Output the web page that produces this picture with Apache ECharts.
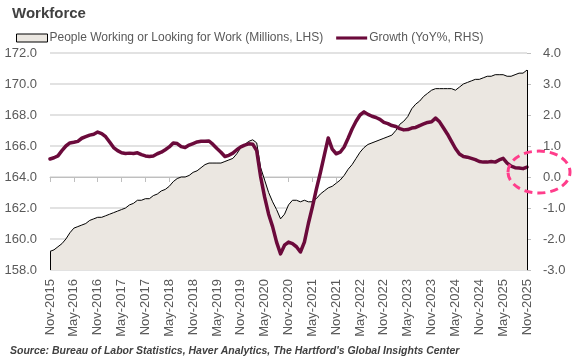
<!DOCTYPE html>
<html>
<head>
<meta charset="utf-8">
<script src="https://cdn.jsdelivr.net/npm/echarts@6/dist/echarts.min.js"></script>
<style>html,body{margin:0;padding:0;background:#fff}#c{width:576px;height:360px}</style>
</head>
<body>
<div id="c"></div>
<script>
// Monthly categories Nov-2015 .. Nov-2025
var monthNames = ['Jan','Feb','Mar','Apr','May','Jun','Jul','Aug','Sep','Oct','Nov','Dec'];
var categories = [];
for (var k = 0; k <= 120; k++) {
  var m = (10 + k) % 12, y = 2015 + Math.floor((10 + k) / 12);
  categories.push(monthNames[m] + '-' + y);
}
var leftTicks = [158, 160, 162, 164, 166, 168, 170, 172];
var rightTicks = [-3, -2, -1, 0, 1, 2, 3, 4];

// People Working or Looking for Work (Millions)
var laborForce = [
159.2,159.3,159.5,159.7,160.0,160.4,160.7,160.8,160.9,161.0,
161.2,161.3,161.4,161.4,161.5,161.6,161.7,161.8,161.9,162.0,
162.2,162.3,162.5,162.5,162.6,162.6,162.8,162.9,163.1,163.2,
163.4,163.7,163.9,164.0,164.0,164.1,164.3,164.4,164.6,164.8,
164.9,164.9,164.9,164.9,165.0,165.1,165.2,165.5,165.9,166.1,
166.3,166.4,166.2,164.6,163.8,163.0,162.4,161.9,161.3,161.6,
162.2,162.5,162.5,162.4,162.5,162.4,162.4,162.6,162.9,163.1,
163.3,163.4,163.6,163.8,164.1,164.5,164.8,165.2,165.6,165.9,
166.1,166.2,166.3,166.4,166.5,166.6,166.7,167.0,167.4,167.6,
167.9,168.4,168.7,168.9,169.2,169.4,169.6,169.7,169.7,169.7,
169.7,169.7,169.6,169.8,170.0,170.1,170.2,170.3,170.3,170.4,
170.5,170.5,170.6,170.6,170.6,170.5,170.5,170.6,170.7,170.7,
170.9];

// Growth (YoY %)
var growth = [
0.58,0.62,0.68,0.85,1.00,1.10,1.12,1.15,1.25,1.30,
1.35,1.38,1.45,1.40,1.30,1.13,0.95,0.85,0.78,0.76,
0.77,0.76,0.78,0.72,0.68,0.66,0.68,0.75,0.80,0.88,
0.97,1.10,1.08,0.98,0.95,1.03,1.08,1.13,1.15,1.15,
1.16,1.05,0.92,0.80,0.66,0.70,0.77,0.88,0.97,1.03,
1.07,1.06,0.85,0.00,-0.65,-1.20,-1.60,-2.10,-2.48,-2.20,
-2.10,-2.15,-2.25,-2.42,-2.10,-1.50,-0.97,-0.40,0.13,0.70,
1.26,0.90,0.75,0.80,0.97,1.25,1.55,1.80,2.00,2.10,
2.02,1.96,1.92,1.86,1.76,1.72,1.66,1.63,1.56,1.52,
1.53,1.58,1.60,1.66,1.71,1.76,1.78,1.90,1.78,1.58,
1.38,1.15,0.92,0.74,0.66,0.64,0.60,0.56,0.50,0.48,
0.48,0.50,0.48,0.55,0.60,0.45,0.35,0.30,0.29,0.27,
0.32];

var FONT = 'Liberation Sans';
var LABEL = '#595959';
var AREA = '#ebe7e1';
var LINE = '#6b0a3b';

var chart = echarts.init(document.getElementById('c'), null, {renderer: 'canvas'});
var last = laborForce.length - 1;
chart.setOption({
  animation: false,
  textStyle: {fontFamily: FONT},
  title: {
    text: 'Workforce', left: 7, top: 1,
    textStyle: {fontFamily: FONT, fontSize: 15, fontWeight: 'bold', color: '#404040'}
  },
  legend: {
    left: 11, top: 27, itemWidth: 31, itemHeight: 8, itemGap: 13,
    textStyle: {fontFamily: FONT, fontSize: 12, color: LABEL, padding: [0, 0, 0, -3]},
    data: [
      {name: 'People Working or Looking for Work (Millions, LHS)', icon: 'rect',
       itemStyle: {color: AREA, borderColor: '#000', borderWidth: 1}},
      {name: 'Growth (YoY%, RHS)', icon: 'path://M0,0H32V3.2H0Z',
       itemStyle: {color: LINE, borderWidth: 0}}
    ]
  },
  grid: {left: 50, right: 49, top: 53, bottom: 90, containLabel: false},
  xAxis: {
    type: 'category', data: categories, boundaryGap: false,
    axisLine: {lineStyle: {color: '#bfbfbf'}},
    axisTick: {interval: 5, length: 5, lineStyle: {color: '#bfbfbf'}},
    axisLabel: {interval: 5, rotate: 90, fontSize: 13, color: LABEL, margin: 9, fontFamily: FONT}
  },
  yAxis: [
    {
      type: 'value', min: leftTicks[0], max: leftTicks[leftTicks.length - 1], interval: 2,
      axisLine: {show: false}, axisTick: {show: false},
      splitLine: {lineStyle: {color: '#d9d9d9', width: 1.5}},
      axisLabel: {fontSize: 13, color: LABEL, margin: 13, fontFamily: FONT,
                  formatter: function (v) { return v.toFixed(1); }}
    },
    {
      type: 'value', min: rightTicks[0], max: rightTicks[rightTicks.length - 1], interval: 1,
      position: 'right',
      axisLine: {show: false},
      axisTick: {show: true, length: 4, lineStyle: {color: '#bfbfbf'}},
      splitLine: {show: false},
      axisLabel: {fontSize: 13, color: LABEL, margin: 16, fontFamily: FONT,
                  formatter: function (v) { return v.toFixed(1); }}
    }
  ],
  series: [
    {
      name: 'People Working or Looking for Work (Millions, LHS)',
      type: 'line', yAxisIndex: 0, data: laborForce,
      symbol: 'none', smooth: false,
      lineStyle: {color: '#000', width: 1},
      itemStyle: {color: AREA},
      areaStyle: {color: AREA, opacity: 1, origin: 'start'},
      markLine: {
        silent: true, symbol: 'none', label: {show: false},
        lineStyle: {color: '#000', width: 1, type: 'solid'},
        data: [
          [{coord: [0, leftTicks[0]]}, {coord: [0, laborForce[0]]}],
          [{coord: [last, leftTicks[0]]}, {coord: [last, laborForce[last]]}]
        ]
      },
      z: 1
    },
    {
      name: 'Growth (YoY%, RHS)',
      type: 'line', yAxisIndex: 1, data: growth,
      symbol: 'none', smooth: false,
      lineStyle: {color: LINE, width: 3.5, join: 'round', cap: 'round'},
      itemStyle: {color: LINE},
      z: 3
    }
  ]
});

// Annotation ellipse anchored at the last growth point
var p = chart.convertToPixel({xAxisIndex: 0, yAxisIndex: 1}, [last, growth[last]]);
chart.setOption({
  graphic: [
    {
      type: 'ellipse', z: 10,
      shape: {cx: p[0] + 12, cy: p[1] + 5, rx: 31, ry: 21},
      style: {fill: 'none', stroke: '#ff3d8b', lineWidth: 3, lineDash: [8, 5]}
    },
    {
      type: 'text', left: 10, top: 346, z: 10,
      style: {
        text: "Source: Bureau of Labor Statistics, Haver Analytics, The Hartford's Global Insights Center",
        font: 'italic bold 10.5px ' + FONT, fill: '#404040'
      }
    }
  ]
});
</script>
</body>
</html>
